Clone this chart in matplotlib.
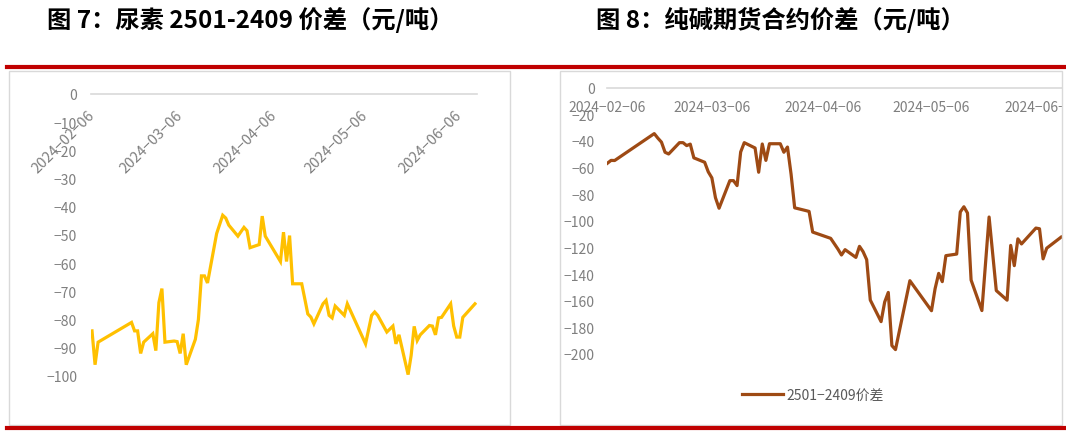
import numpy as np
import matplotlib
matplotlib.use('Agg')
import matplotlib.pyplot as plt
from matplotlib.lines import Line2D
from matplotlib.patches import Rectangle
from matplotlib.transforms import Bbox, TransformedBbox

plt.rcParams['font.family'] = ['Noto Sans CJK SC', 'DejaVu Sans']

# urea 2501-2409 spread, yuan/t
urea_dates = ['2024-02-06', '2024-02-07', '2024-02-08', '2024-02-19', '2024-02-20',
              '2024-02-21', '2024-02-22', '2024-02-23', '2024-02-26', '2024-02-27',
              '2024-02-28', '2024-02-29', '2024-03-01', '2024-03-04', '2024-03-05',
              '2024-03-06', '2024-03-07', '2024-03-08', '2024-03-11', '2024-03-12',
              '2024-03-13', '2024-03-14', '2024-03-15', '2024-03-18', '2024-03-20',
              '2024-03-21', '2024-03-22', '2024-03-25', '2024-03-27', '2024-03-28',
              '2024-03-29', '2024-04-01', '2024-04-02', '2024-04-03', '2024-04-08',
              '2024-04-09', '2024-04-10', '2024-04-11', '2024-04-12', '2024-04-15',
              '2024-04-16', '2024-04-17', '2024-04-18', '2024-04-19', '2024-04-22',
              '2024-04-23', '2024-04-24', '2024-04-25', '2024-04-26', '2024-04-29',
              '2024-04-30', '2024-05-06', '2024-05-08', '2024-05-09', '2024-05-10',
              '2024-05-13', '2024-05-15', '2024-05-16', '2024-05-17', '2024-05-20',
              '2024-05-21', '2024-05-22', '2024-05-23', '2024-05-24', '2024-05-27',
              '2024-05-28', '2024-05-29', '2024-05-30', '2024-05-31', '2024-06-03',
              '2024-06-04', '2024-06-05', '2024-06-06', '2024-06-07', '2024-06-11']
urea_spread = [-84, -96, -88, -81, -84,
               -84, -92, -88, -85, -91,
               -74, -69, -88, -87.6, -87.8,
               -92, -85, -96, -87, -80,
               -64.5, -64.5, -67, -49.5, -43,
               -44, -46.5, -50.4, -47.3, -48.5,
               -54.5, -53.4, -43.3, -50.4, -59.4,
               -49, -59.4, -50.2, -67.3, -67.3,
               -72.6, -78, -79.1, -81.5, -74.4,
               -73.2, -78.5, -79.4, -75.2, -78.5,
               -74.4, -88.6, -78.5, -77.3, -78.5,
               -84.4, -82.3, -88.6, -85.4, -99.5,
               -92.7, -82.4, -87.4, -85.4, -82.1,
               -82.3, -85.4, -79.4, -79.2, -74.4,
               -82.3, -86.2, -86.2, -79.2, -74.4]

# soda ash 2501-2409 spread, yuan/t
soda_dates = ['2024-02-06', '2024-02-07', '2024-02-08', '2024-02-19', '2024-02-20',
              '2024-02-21', '2024-02-22', '2024-02-23', '2024-02-26', '2024-02-27',
              '2024-02-28', '2024-02-29', '2024-03-01', '2024-03-04', '2024-03-05',
              '2024-03-06', '2024-03-07', '2024-03-08', '2024-03-11', '2024-03-12',
              '2024-03-13', '2024-03-14', '2024-03-15', '2024-03-18', '2024-03-19',
              '2024-03-20', '2024-03-21', '2024-03-22', '2024-03-25', '2024-03-26',
              '2024-03-27', '2024-03-28', '2024-03-29', '2024-04-01', '2024-04-02',
              '2024-04-03', '2024-04-08', '2024-04-10', '2024-04-11', '2024-04-12',
              '2024-04-15', '2024-04-16', '2024-04-17', '2024-04-18', '2024-04-19',
              '2024-04-22', '2024-04-23', '2024-04-24', '2024-04-25', '2024-04-26',
              '2024-04-30', '2024-05-06', '2024-05-07', '2024-05-08', '2024-05-09',
              '2024-05-10', '2024-05-13', '2024-05-14', '2024-05-15', '2024-05-16',
              '2024-05-17', '2024-05-20', '2024-05-22', '2024-05-24', '2024-05-27',
              '2024-05-28', '2024-05-29', '2024-05-30', '2024-05-31', '2024-06-04',
              '2024-06-05', '2024-06-06', '2024-06-07', '2024-06-11']
soda_spread = [-56.8, -54.7, -54.8, -34.6, -38,
               -41, -48.6, -49.9, -41.4, -41.4,
               -43.6, -42.5, -52.8, -56.1, -63.3,
               -67.8, -82.7, -90.6, -69.9, -69.9,
               -73.6, -48.4, -41.4, -45.4, -63.6,
               -42.4, -54.7, -42.2, -42.2, -48.6,
               -44.7, -65, -90.3, -92.3, -93,
               -108.5, -113.2, -121.2, -125.7, -121.7,
               -127.5, -119.2, -123.2, -129.2, -159.5,
               -175.7, -161, -153.8, -193.7, -196.7,
               -145, -167.5, -151, -139.5, -145.7,
               -126.2, -125, -93.4, -89.5, -94.2,
               -144.5, -167.4, -97.2, -152.4, -159.6,
               -118.5, -133.7, -113.6, -117.4, -105.5,
               -106, -128.6, -120.6, -112.3]

tick_dates = ['2024-02-06', '2024-03-06', '2024-04-06', '2024-05-06', '2024-06-06']
tick_labels = [d.replace('-', '\u2212') for d in tick_dates]
urea_yticks = list(range(0, -101, -10))
soda_yticks = list(range(0, -201, -20))

W, H = 1066, 435
fig = plt.figure(figsize=(W / 100, H / 100), dpi=100)

gray_txt = '#7f7f7f'
grid_col = '#d9d9d9'


def px_axes(x0, x1, ytop, ybot):
    return fig.add_axes([x0 / W, 1 - ybot / H, (x1 - x0) / W, (ybot - ytop) / H])


# panel frames
for x0, x1 in [(8.5, 510), (560, 1062)]:
    fig.add_artist(Rectangle((x0 / W, 1 - 426 / H), (x1 - x0) / W, (426 - 71.5) / H,
                             transform=fig.transFigure, fill=False,
                             edgecolor=grid_col, lw=1))

# titles
fig.text(47 / W, 1 - 20 / H, '图 7：尿素 2501-2409 价差（元/吨）', fontsize=17.5,
         fontweight='bold', va='center', ha='left', color='black')
fig.text(596 / W, 1 - 20 / H, '图 8：纯碱期货合约价差（元/吨）', fontsize=17.5,
         fontweight='bold', va='center', ha='left', color='black')


def style(ax, yticks):
    ax.set_facecolor('none')
    for s in ['left', 'right', 'top']:
        ax.spines[s].set_visible(False)
    ax.spines['bottom'].set_position(('data', 0))
    ax.spines['bottom'].set_color(grid_col)
    ax.spines['bottom'].set_linewidth(1.2)
    ax.set_ylim(min(yticks), 0)
    ax.set_yticks(yticks)
    ax.tick_params(axis='both', length=0, labelsize=10, labelcolor=gray_txt)


# left: urea
ax1 = px_axes(91, 477, 95, 377)
ax1.plot(np.array(urea_dates, dtype='datetime64[D]'), urea_spread,
         color='#FFC000', lw=2.3, solid_joinstyle='miter')
style(ax1, urea_yticks)
ax1.set_xlim(np.datetime64('2024-02-05T16'), np.datetime64('2024-06-11T16'))
ax1.set_xticks(np.array(tick_dates, dtype='datetime64[D]'))
ax1.set_xticklabels(tick_labels, rotation=45, ha='right', va='center',
                    rotation_mode='anchor', fontsize=10.5)
ax1.tick_params(axis='x', pad=13)
ax1.tick_params(axis='y', pad=10)

# right: soda ash
ax2 = px_axes(607, 1062, 88.5, 355)
ax2.plot(np.array(soda_dates, dtype='datetime64[D]'), soda_spread,
         color='#9E4A14', lw=2.3, label='2501\u22122409价差')
style(ax2, soda_yticks)
ax2.set_xlim(np.datetime64('2024-02-05T21'), np.datetime64('2024-06-11T06'))
ax2.set_xticks(np.array(tick_dates, dtype='datetime64[D]'))
ax2.set_xticklabels(tick_labels)
ax2.tick_params(axis='x', pad=9)
ax2.tick_params(axis='y', pad=9)
clip = TransformedBbox(Bbox([[0, 0], [1062 / W, 1]]), fig.transFigure)
for lbl in ax2.get_xticklabels():
    lbl.set_clip_on(True)
    lbl.set_clip_box(clip)
ax2.legend(loc='center', bbox_to_anchor=(813 / W, 1 - 396 / H),
           bbox_transform=fig.transFigure, frameon=False, fontsize=10,
           handlelength=2.95, handletextpad=0.3, labelcolor='#595959')

# red rules
for y in [68, 428.5]:
    fig.add_artist(Line2D([7 / W, 1], [1 - y / H, 1 - y / H], transform=fig.transFigure,
                          color='#C00000', lw=3, zorder=10))

fig.savefig('out.png', dpi=100)
